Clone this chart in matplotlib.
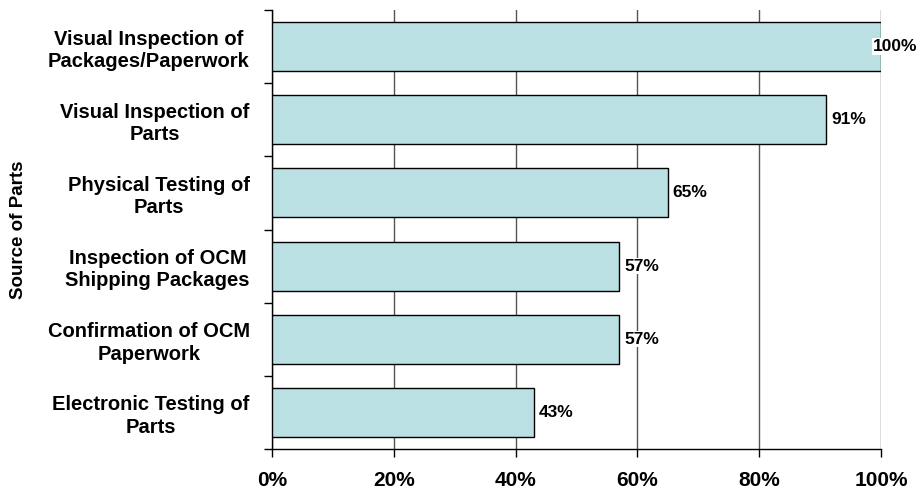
import matplotlib.pyplot as plt
from matplotlib.ticker import MultipleLocator, FixedLocator, PercentFormatter

plt.rcParams['font.family'] = ['Liberation Sans', 'DejaVu Sans']
plt.rcParams['font.weight'] = 'bold'

# data (top to bottom)
categories = [
    "Visual Inspection of\nPackages/Paperwork",
    "Visual Inspection of\nParts",
    "Physical Testing of\nParts",
    "Inspection of OCM\nShipping Packages",
    "Confirmation of OCM\nPaperwork",
    "Electronic Testing of\nParts",
]
values = [100, 91, 65, 57, 57, 43]

fig = plt.figure(figsize=(9.19, 4.91), dpi=100)
ax = fig.add_axes([0.296, 0.0855, 0.6627, 0.894])

ypos = list(range(len(categories)))[::-1]
ax.barh(ypos, values, height=0.67, color="#BAE0E3", edgecolor="black",
        linewidth=1.0, zorder=3)

# value labels; keep the last one inside the figure like the original
for y, v in zip(ypos, values):
    ax.text(min(v + 0.8, 98.6), y, f"{v}%", va="center", ha="left",
            fontsize=12.5, fontweight="bold", zorder=4,
            bbox=dict(facecolor="white", edgecolor="none", pad=0.5))

ax.set_xlim(0, 100)
ax.set_ylim(-0.5, len(categories) - 0.5)
ax.xaxis.set_major_locator(MultipleLocator(20))
ax.xaxis.set_major_formatter(PercentFormatter(decimals=0))
ax.grid(axis="x", color="#555555", linewidth=1.0, zorder=0)

ax.set_yticks(ypos)
ax.set_yticklabels(categories, fontsize=14.5, fontweight="bold",
                   multialignment="center", linespacing=1.22)
ax.yaxis.set_minor_locator(FixedLocator([i - 0.5 for i in range(len(categories) + 1)]))
ax.tick_params(axis="y", which="major", length=0, pad=16)
ax.tick_params(axis="y", which="minor", length=6, width=1)
ax.tick_params(axis="x", length=6, width=1, labelsize=15, pad=10)

ax.set_ylabel("Source of Parts", fontsize=13.5, fontweight="bold", labelpad=15)

for s in ["top", "right"]:
    ax.spines[s].set_visible(False)
ax.spines["left"].set_linewidth(1.0)
ax.spines["bottom"].set_linewidth(1.0)

fig.savefig("out.png", dpi=100)
